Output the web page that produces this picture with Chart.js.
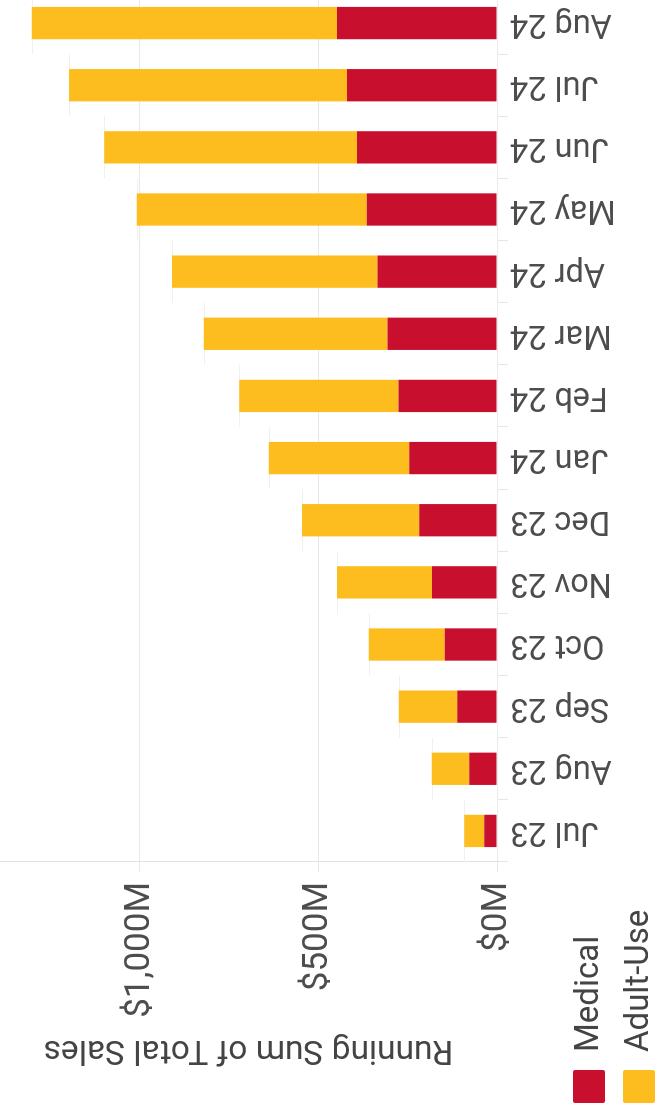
<!DOCTYPE html>
<html>
<head>
<meta charset="utf-8">
<title>Running Sum of Total Sales</title>
<script src="https://cdn.jsdelivr.net/npm/chart.js@4.4.1/dist/chart.umd.min.js"></script>
<style>
  html, body { margin: 0; padding: 0; background: #fff; }
  body { width: 656px; height: 1119px; overflow: hidden; position: relative; }
  /* the chart is drawn as a normal column chart, then turned a quarter left */
  #wrap {
    position: absolute; left: 0; top: 0;
    width: 1127px; height: 656px;
    transform-origin: 0 0;
    transform: translate(0px, 1119px) rotate(-90deg);
  }
</style>
</head>
<body>
<div id="wrap"><canvas id="salesChart" width="1127" height="656"></canvas></div>
<script>
// Months on the category axis
const months = ['Jul 23', 'Aug 23', 'Sep 23', 'Oct 23', 'Nov 23', 'Dec 23', 'Jan 24',
                'Feb 24', 'Mar 24', 'Apr 24', 'May 24', 'Jun 24', 'Jul 24', 'Aug 24'];

// Running sums, $M
const medical  = [36, 78, 111, 146, 182, 218, 246, 276, 307, 335, 365, 392, 420, 448];
const adultUse = [56, 105, 164, 213, 266, 328, 393, 446, 514, 575, 644, 708, 779, 855];

// Value axis
const valueTicks = [0, 500, 1000];
const valueMax = 1392;

const RED = '#C8102E';
const YELLOW = '#FDBD1F';
const FONT = 'Roboto, "Noto Sans", sans-serif';

// faint mark at each month's running total, one band wide
const runningTotalMarks = {
    id: 'runningTotalMarks',
    beforeDatasetsDraw(chart) {
        const { ctx, scales: { x, y } } = chart;
        const band = x.getPixelForValue(1) - x.getPixelForValue(0);
        ctx.save();
        ctx.strokeStyle = '#f0f0f0';
        ctx.lineWidth = 1;
        months.forEach((m, i) => {
            const cx = x.getPixelForValue(i);
            const py = Math.round(y.getPixelForValue(medical[i] + adultUse[i])) + 0.5;
            ctx.beginPath();
            ctx.moveTo(cx - band / 2, py);
            ctx.lineTo(cx + band / 2, py);
            ctx.stroke();
        });
        ctx.restore();
    }
};

// legend sits in the corner under the axis title
const cornerLegend = {
    id: 'cornerLegend',
    afterDraw(chart) {
        const ctx = chart.ctx;
        ctx.save();
        ctx.font = '33px ' + FONT;
        ctx.textBaseline = 'middle';
        chart.data.datasets.forEach((ds, i) => {
            const top = 573 + i * 50;
            ctx.fillStyle = ds.backgroundColor;
            ctx.beginPath();
            ctx.roundRect(16, top, 33, 32, 2);
            ctx.fill();
            ctx.fillStyle = '#444';
            ctx.fillText(ds.label, 67, top + 17);
        });
        ctx.restore();
    }
};

const ctx = document.getElementById('salesChart').getContext('2d');
new Chart(ctx, {
    type: 'bar',
    data: {
        labels: months,
        datasets: [
            { label: 'Medical', data: medical, backgroundColor: RED,
              barPercentage: 0.52, categoryPercentage: 1.0 },
            { label: 'Adult-Use', data: adultUse, backgroundColor: YELLOW,
              barPercentage: 0.52, categoryPercentage: 1.0 }
        ]
    },
    options: {
        responsive: false,
        animation: false,
        devicePixelRatio: 1,
        layout: { padding: 0 },
        plugins: {
            legend: { display: false },
            tooltip: { enabled: false }
        },
        scales: {
            x: {
                stacked: true,
                offset: true,
                grid: { drawOnChartArea: false, drawTicks: true, tickLength: 11, color: '#e6e6e6' },
                border: { color: '#ebebeb' },
                ticks: {
                    minRotation: 90, maxRotation: 90, autoSkip: false, padding: 2,
                    color: '#4d4d4d', font: { family: FONT, size: 32.5 }
                },
                afterFit(s) {
                    s.height = 159;
                    s.paddingLeft = 0;
                    s.paddingRight = 0;
                }
            },
            y: {
                stacked: true,
                min: 0,
                max: valueMax,
                grid: { color: '#e8e8e8', tickLength: 10 },
                border: { color: '#e2e2e2' },
                ticks: {
                    padding: 10,
                    color: '#4d4d4d',
                    font: { family: FONT, size: 35 },
                    callback: v => '$' + v.toLocaleString('en-US') + 'M'
                },
                afterBuildTicks(s) {
                    s.ticks = valueTicks.map(v => ({ value: v }));
                },
                title: {
                    display: true,
                    text: 'Running Sum of Total Sales',
                    color: '#444',
                    font: { family: FONT, size: 33.5 },
                    padding: { top: 50, bottom: 0 }
                },
                afterFit(s) {
                    s.width = 257;
                    s.paddingTop = 0;
                    s.paddingBottom = 0;
                }
            }
        }
    },
    plugins: [runningTotalMarks, cornerLegend]
});
</script>
</body>
</html>
